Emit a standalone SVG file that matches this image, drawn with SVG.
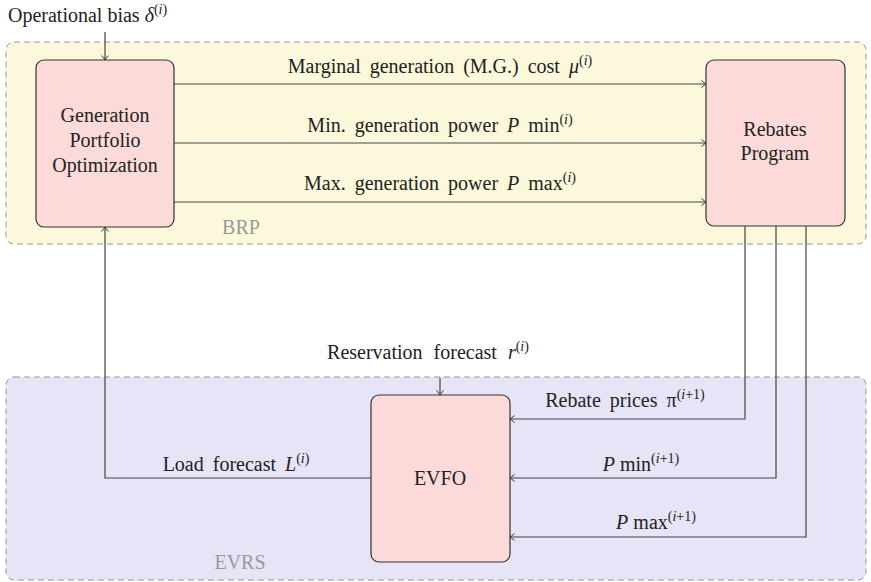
<svg xmlns="http://www.w3.org/2000/svg" width="871" height="582" viewBox="0 0 871 582" font-family="'Liberation Serif', serif">
<defs>
<marker id="ah" viewBox="-6 -5 8 10" refX="0" refY="0" markerWidth="8" markerHeight="10" orient="auto" markerUnits="userSpaceOnUse">
<path d="M-4.5,-3.5 Q-1.5,-0.8 0,0 Q-1.5,0.8 -4.5,3.5" fill="none" stroke="#333" stroke-width="1"/>
</marker>
</defs>
<g id="region-brp">
<rect x="6" y="42" width="860" height="202" rx="8" fill="#fcf8dc" stroke="#999" stroke-width="1" stroke-dasharray="6,4"/>
<text font-family="serif" font-size="20" fill="#999" text-anchor="middle" x="241" y="234">BRP</text>
</g>
<g id="region-evrs">
<rect x="6" y="377" width="860" height="203" rx="8" fill="#e6e4f6" stroke="#999" stroke-width="1" stroke-dasharray="6,4"/>
<text font-family="serif" font-size="20" fill="#999" text-anchor="middle" x="240" y="569">EVRS</text>
</g>
<g id="gpo">
<rect x="36" y="60" width="138" height="167" rx="8" fill="#fddada" stroke="#333" stroke-width="1.2"/>
<text font-family="serif" font-size="20" fill="#222" text-anchor="middle" x="105" y="122">Generation</text>
<text font-family="serif" font-size="20" fill="#222" text-anchor="middle" x="105" y="147">Portfolio</text>
<text font-family="serif" font-size="20" fill="#222" text-anchor="middle" x="105" y="172">Optimization</text>
</g>
<g id="rebates">
<rect x="706" y="60" width="139" height="166" rx="8" fill="#fddada" stroke="#333" stroke-width="1.2"/>
<text font-family="serif" font-size="20" fill="#222" text-anchor="middle" x="775" y="136">Rebates</text>
<text font-family="serif" font-size="20" fill="#222" text-anchor="middle" x="775" y="160">Program</text>
</g>
<g id="evfo">
<rect x="371" y="395" width="139" height="167" rx="8" fill="#fddada" stroke="#333" stroke-width="1.2"/>
<text font-family="serif" font-size="20" fill="#222" text-anchor="middle" x="440" y="485">EVFO</text>
</g>
<g id="connectors" fill="none" stroke="#444" stroke-width="1.2" marker-end="url(#ah)">
<path d="M105,32 V60"/>
<path d="M174,84 H706"/>
<path d="M174,143 H706"/>
<path d="M174,202 H706"/>
<path d="M371,478 H105 V227"/>
<path d="M440,378 V395"/>
<path d="M745,226 V419 H510"/>
<path d="M776,226 V478 H510"/>
<path d="M806,226 V537 H510"/>
</g>
<g id="labels" fill="#222" font-family="serif" font-size="20">
<text x="8" y="22">Operational bias <tspan font-style="italic">δ</tspan><tspan font-size="14" dy="-8">(<tspan font-style="italic">i</tspan>)</tspan></text>
<text text-anchor="middle" x="440" y="73" word-spacing="4">Marginal generation (M.G.) cost <tspan font-style="italic">μ</tspan><tspan font-size="14" dy="-8">(<tspan font-style="italic">i</tspan>)</tspan></text>
<text text-anchor="middle" x="440" y="132" word-spacing="4">Min. generation power <tspan font-style="italic">P</tspan> min<tspan font-size="14" dy="-8">(<tspan font-style="italic">i</tspan>)</tspan></text>
<text text-anchor="middle" x="440" y="190" word-spacing="4">Max. generation power <tspan font-style="italic">P</tspan> max<tspan font-size="14" dy="-8">(<tspan font-style="italic">i</tspan>)</tspan></text>
<text text-anchor="middle" x="428" y="359" word-spacing="6">Reservation forecast <tspan font-style="italic">r</tspan><tspan font-size="14" dy="-8">(<tspan font-style="italic">i</tspan>)</tspan></text>
<text text-anchor="middle" x="625" y="407" word-spacing="4">Rebate prices π<tspan font-size="14" dy="-8">(<tspan font-style="italic">i</tspan>+1)</tspan></text>
<text text-anchor="middle" x="641" y="471"><tspan font-style="italic">P</tspan> min<tspan font-size="14" dy="-8">(<tspan font-style="italic">i</tspan>+1)</tspan></text>
<text text-anchor="middle" x="656" y="529"><tspan font-style="italic">P</tspan> max<tspan font-size="14" dy="-8">(<tspan font-style="italic">i</tspan>+1)</tspan></text>
<text text-anchor="middle" x="236" y="471" word-spacing="4">Load forecast <tspan font-style="italic">L</tspan><tspan font-size="14" dy="-8">(<tspan font-style="italic">i</tspan>)</tspan></text>
</g>
</svg>
